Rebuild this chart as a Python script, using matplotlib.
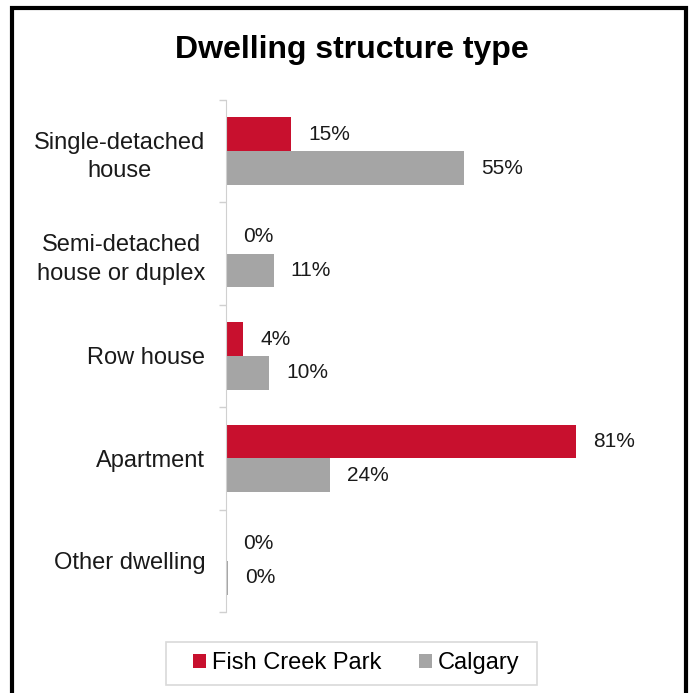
import matplotlib
matplotlib.use("Agg")
import matplotlib.pyplot as plt
from matplotlib.patches import Rectangle
import numpy as np

categories = ["Single-detached\nhouse", "Semi-detached\nhouse or duplex", "Row house",
              "Apartment", "Other dwelling"]
fish_creek = [15, 0, 4, 81, 0]
calgary = [55, 11, 10, 24, 0.4]
fish_labels = ["15%", "0%", "4%", "81%", "0%"]
calgary_labels = ["55%", "11%", "10%", "24%", "0%"]

red = "#C8102E"
gray = "#A5A5A5"

plt.rcParams["font.family"] = ["Liberation Sans", "DejaVu Sans"]

fig = plt.figure(figsize=(6.96, 6.93), dpi=100)
ax = fig.add_axes([226 / 696, 1 - 612 / 693, 432 / 696, 512 / 693])

y = np.arange(len(categories))
h = 0.33
b1 = ax.barh(y - 0.165, fish_creek, height=h, color=red, label="Fish Creek Park")
b2 = ax.barh(y + 0.165, calgary, height=h, color=gray, label="Calgary")

for bars, labels in [(b1, fish_labels), (b2, calgary_labels)]:
    for bar, lab in zip(bars, labels):
        ax.text(bar.get_width() + 4.0, bar.get_y() + bar.get_height() / 2, lab,
                ha="left", va="center", fontsize=15, color="#1a1a1a")

ax.set_xlim(0, 100)
ax.set_ylim(len(categories) - 0.5, -0.5)
ax.set_xticks([])
ax.set_yticks(y)
ax.set_yticklabels(categories, fontsize=17, multialignment="center",
                   color="#1a1a1a", linespacing=1.4)
ax.tick_params(axis="y", which="major", length=0, pad=15)
ax.set_yticks(np.arange(-0.5, len(categories)), minor=True)
ax.tick_params(axis="y", which="minor", length=5, color="#d0d0d0", width=1)
for s in ["top", "right", "bottom"]:
    ax.spines[s].set_visible(False)
ax.spines["left"].set_color("#d0d0d0")

fig.text(0.505, 1 - 50 / 693, "Dwelling structure type", ha="center", va="center",
         fontsize=23, fontweight="bold")

leg = fig.legend(handles=[b1, b2], loc="center", bbox_to_anchor=(356 / 696, 1 - 663 / 693),
                 ncol=2, fontsize=17, frameon=False,
                 handlelength=0.55, handleheight=0.55, handletextpad=0.25,
                 columnspacing=1.6, borderpad=0.0, borderaxespad=0)

# legend box
fig.patches.append(Rectangle((166 / 696, 1 - 685 / 693), 371 / 696, 43 / 693,
                             transform=fig.transFigure, fill=False,
                             edgecolor="#d9d9d9", linewidth=1.2))

fig.patches.append(Rectangle((12 / 696, -0.02), 674 / 696, 1 - 8 / 693 + 0.02,
                             transform=fig.transFigure, fill=False,
                             edgecolor="black", linewidth=3))

fig.savefig("out.png", dpi=100)
plt.close(fig)
